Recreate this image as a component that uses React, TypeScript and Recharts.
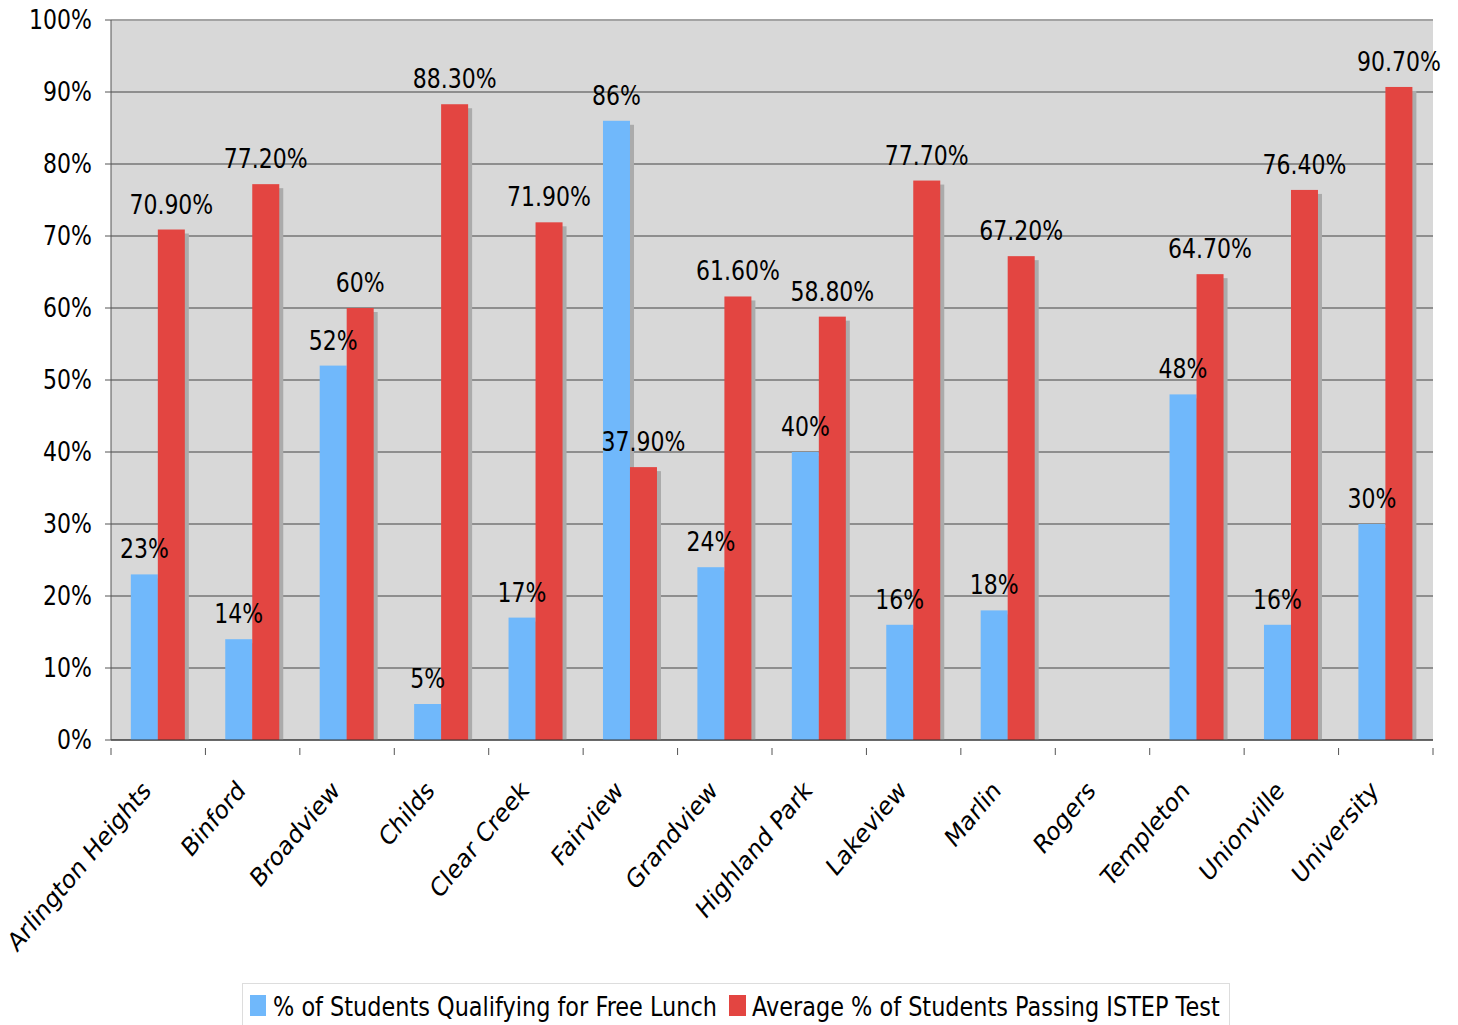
import React from "react";
import { BarChart, Bar, XAxis, YAxis, CartesianGrid, LabelList, ReferenceLine } from "recharts";

const schools = [
  "Arlington Heights",
  "Binford",
  "Broadview",
  "Childs",
  "Clear Creek",
  "Fairview",
  "Grandview",
  "Highland Park",
  "Lakeview",
  "Marlin",
  "Rogers",
  "Templeton",
  "Unionville",
  "University",
];
const freeLunch = [23, 14, 52, 5, 17, 86, 24, 40, 16, 18, null, 48, 16, 30];
const istepPass = [70.9, 77.2, 60, 88.3, 71.9, 37.9, 61.6, 58.8, 77.7, 67.2, null, 64.7, 76.4, 90.7];
const yTicks = [0, 10, 20, 30, 40, 50, 60, 70, 80, 90, 100];

const BLUE = "#70b8fb";
const RED = "#e34541";
const FONT = "'DejaVu Sans', Verdana, sans-serif";
// the original picture is a little stretched vertically
const STRETCH = 1.19;

const data = schools.map((name, i) => ({ name, lunch: freeLunch[i], istep: istepPass[i] }));

const fmt = (v: number) => (Number.isInteger(v) ? `${v}%` : `${v.toFixed(2)}%`);

function ShadowBar(props: any) {
  const { x, y, width, height, fill } = props;
  if (!height || height <= 0) return null;
  return (
    <g>
      <rect x={x + 4} y={y + 4} width={width} height={height - 4} fill="#ababab" />
      <rect x={x} y={y} width={width} height={height} fill={fill} />
    </g>
  );
}

function ValueLabel(props: any) {
  const { x, y, width, value } = props;
  if (value == null) return null;
  return (
    <g transform={`translate(${x + width / 2}, ${y - 16}) scale(1, ${STRETCH})`}>
      <text x={0} y={0} textAnchor="middle" fontSize={22} fontFamily={FONT} fill="#000">
        {fmt(value)}
      </text>
    </g>
  );
}

function PercentTick(props: any) {
  const { x, y, payload } = props;
  return (
    <g transform={`translate(${x}, ${y}) scale(1, ${STRETCH})`}>
      <text x={0} y={0} dy="0.36em" textAnchor="end" fontSize={22} fontFamily={FONT} fill="#000">
        {`${payload.value}%`}
      </text>
    </g>
  );
}

function SchoolTick(props: any) {
  const { x, y, payload, index } = props;
  const half = payload?.offset ?? 47;
  const last = index === schools.length - 1;
  return (
    <g>
      <line x1={x - half} y1={y} x2={x - half} y2={y + 7} stroke="#555" />
      {last && <line x1={x + half} y1={y} x2={x + half} y2={y + 7} stroke="#555" />}
      <g transform={`translate(${x - 6}, ${y + 44}) scale(1, ${STRETCH}) rotate(-45)`}>
        <text x={0} y={0} textAnchor="end" fontSize={22} fontFamily={FONT} fill="#000">
          {payload.value}
        </text>
      </g>
    </g>
  );
}

export default function App() {
  return (
    <div style={{ position: "absolute", left: 0, top: 0, width: 1458, height: 1025, background: "#fff" }}>
      <BarChart
        width={1458}
        height={1025}
        data={data}
        margin={{ top: 20, right: 25, left: 0, bottom: 0 }}
        barCategoryGap="21%"
        barGap={0}
      >
        <CartesianGrid vertical={false} stroke="#444" fill="#d8d8d8" />
        <XAxis
          dataKey="name"
          interval={0}
          height={285}
          tickLine={false}
          axisLine={{ stroke: "#333" }}
          tick={<SchoolTick />}
        />
        <YAxis
          width={111}
          domain={[0, 100]}
          ticks={yTicks}
          tickSize={6}
          tickMargin={13}
          axisLine={{ stroke: "#555" }}
          tickLine={{ stroke: "#555" }}
          tick={<PercentTick />}
        />
        <YAxis yAxisId="r" orientation="right" width={0} tick={false} tickLine={false} axisLine={{ stroke: "#999", strokeWidth: 2 }} />
        <ReferenceLine y={100} stroke="#a3a3a3" strokeWidth={2} />
        <Bar dataKey="lunch" fill={BLUE} shape={<ShadowBar />} isAnimationActive={false}>
          <LabelList dataKey="lunch" content={<ValueLabel />} />
        </Bar>
        <Bar dataKey="istep" fill={RED} shape={<ShadowBar />} isAnimationActive={false}>
          <LabelList dataKey="istep" content={<ValueLabel />} />
        </Bar>
      </BarChart>
      <div
        style={{
          position: "absolute",
          left: 242,
          top: 983,
          width: 988,
          height: 50,
          borderTop: "1px solid #ddd",
          borderLeft: "1px solid #ddd",
          borderRight: "1px solid #ddd",
          boxSizing: "border-box",
          display: "flex",
          alignItems: "center",
          paddingLeft: 7,
          paddingBottom: 6,
          fontFamily: FONT,
          fontSize: 22.4,
          color: "#000",
          whiteSpace: "nowrap",
        }}
      >
        <span style={{ display: "inline-block", width: 16, height: 21, background: BLUE, marginRight: 7 }} />
        <span style={{ display: "inline-block", marginRight: 12, transform: `scaleY(${STRETCH})` }}>
          % of Students Qualifying for Free Lunch
        </span>
        <span style={{ display: "inline-block", width: 17, height: 21, background: RED, marginRight: 6 }} />
        <span style={{ display: "inline-block", transform: `scaleY(${STRETCH})` }}>
          Average % of Students Passing ISTEP Test
        </span>
      </div>
    </div>
  );
}
